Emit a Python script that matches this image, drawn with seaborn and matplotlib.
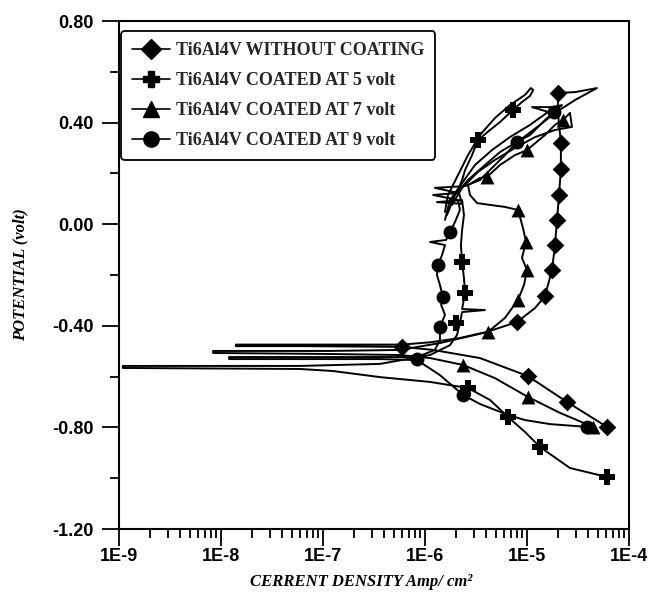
import numpy as np
import pandas as pd
import matplotlib
matplotlib.use("Agg")
import matplotlib.pyplot as plt
import matplotlib.ticker as mticker
from matplotlib.lines import Line2D
import seaborn as sns

# ---------------- data (current density A/cm2, potential V) ----------------
labels = ["Ti6Al4V WITHOUT COATING", "Ti6Al4V COATED AT 5 volt",
          "Ti6Al4V COATED AT 7 volt", "Ti6Al4V COATED AT 9 volt"]
markers = ["D", "P", "^", "o"]

# uncoated (diamonds)
uc_i = [6.08e-5, 2.47e-5, 1.02e-5, 3.46e-6, 1.20e-6, 5.96e-7, 5.96e-8, 1.40e-8,
        1.40e-8, 5.96e-8, 5.96e-7, 1.12e-6, 2.20e-6, 4.06e-6, 7.98e-6, 1.20e-5,
        1.50e-5, 1.76e-5, 1.88e-5, 1.97e-5, 2.06e-5, 2.15e-5, 2.15e-5, 2.01e-5,
        2.01e-5, 2.96e-5, 4.85e-5,
        2.96e-5, 1.88e-5, 1.34e-5, 8.53e-6, 5.43e-6, 3.87e-6, 2.64e-6, 1.97e-6, 1.64e-6]
uc_e = [-0.798, -0.700, -0.598, -0.527, -0.495, -0.483, -0.480, -0.480,
        -0.474, -0.474, -0.474, -0.465, -0.448, -0.424, -0.385, -0.330,
        -0.283, -0.180, -0.082, 0.017, 0.115, 0.217, 0.320, 0.438,
        0.517, 0.520, 0.536,
        0.489, 0.438, 0.391, 0.331, 0.284, 0.233, 0.174, 0.115, 0.036]
uc_mi = [5.96e-7, 1.02e-5, 2.47e-5, 6.08e-5, 7.98e-6, 1.50e-5, 1.76e-5, 1.88e-5,
         1.97e-5, 2.06e-5, 2.15e-5, 2.15e-5, 2.01e-5]
uc_me = [-0.483, -0.598, -0.700, -0.798, -0.385, -0.283, -0.180, -0.082,
         0.017, 0.115, 0.217, 0.320, 0.517]

# coated at 5 volt (plus)
c5_i = [6.08e-5, 2.64e-5, 1.34e-5, 9.55e-6, 6.52e-6, 4.34e-6, 2.64e-6, 1.12e-6,
        3.62e-7, 1.25e-7, 5.96e-8, 1.09e-9,
        1.09e-9, 5.96e-8, 3.62e-7, 1.12e-6, 1.76e-6, 2.06e-6, 2.20e-6, 2.31e-6,
        3.87e-6, 2.31e-6, 2.47e-6, 2.41e-6, 2.31e-6, 2.25e-6, 2.31e-6, 2.41e-6,
        2.31e-6, 1.31e-6, 2.31e-6, 2.11e-6, 2.31e-6, 2.47e-6, 2.89e-6, 3.31e-6,
        4.34e-6, 5.43e-6, 7.29e-6, 8.93e-6, 1.07e-5, 1.15e-5, 1.09e-5,
        9.55e-6, 6.81e-6, 4.85e-6, 3.46e-6, 2.64e-6, 2.11e-6, 1.68e-6, 1.57e-6]
c5_e = [-0.995, -0.960, -0.877, -0.818, -0.759, -0.692, -0.645, -0.621,
        -0.602, -0.578, -0.570, -0.566,
        -0.558, -0.558, -0.550, -0.515, -0.476, -0.436, -0.389, -0.346,
        -0.338, -0.334, -0.271, -0.212, -0.149, -0.082, -0.023, 0.036,
        0.095, 0.087, 0.080, 0.135, 0.174, 0.213, 0.272, 0.331,
        0.371, 0.402, 0.450, 0.481, 0.505, 0.528, 0.536,
        0.509, 0.469, 0.418, 0.351, 0.272, 0.194, 0.115, 0.048]
c5_mi = [6.08e-5, 1.34e-5, 6.52e-6, 2.64e-6, 2.00e-6, 2.47e-6, 2.31e-6, 3.31e-6, 7.29e-6]
c5_me = [-0.995, -0.877, -0.759, -0.645, -0.389, -0.271, -0.149, 0.331, 0.450]

# coated at 7 volt (triangles)
c7_i = [4.44e-5, 2.11e-5, 1.02e-5, 4.85e-6, 2.36e-6, 1.12e-6, 5.69e-7, 1.17e-7, 8.36e-9,
        8.36e-9, 1.17e-7, 5.69e-7, 1.40e-6, 4.15e-6, 6.08e-6, 8.17e-6, 9.35e-6,
        1.00e-5, 8.93e-6, 9.77e-6, 9.14e-6, 8.17e-6, 6.08e-6, 4.34e-6, 3.24e-6,
        2.76e-6, 2.64e-6, 3.46e-6, 4.06e-6, 5.43e-6, 7.62e-6, 1.00e-5, 1.50e-5,
        1.88e-5, 2.25e-5, 2.64e-5,
        2.76e-5, 1.88e-5, 1.20e-5, 7.62e-6, 4.85e-6, 3.31e-6, 2.31e-6, 1.84e-6]
c7_e = [-0.798, -0.743, -0.680, -0.606, -0.554, -0.527, -0.515, -0.511, -0.507,
        -0.499, -0.499, -0.495, -0.468, -0.424, -0.369, -0.298, -0.239,
        -0.180, -0.133, -0.070, -0.015, 0.056, 0.068, 0.076, 0.083,
        0.115, 0.154, 0.182, 0.186, 0.233, 0.272, 0.292, 0.351,
        0.391, 0.410, 0.438,
        0.383, 0.371, 0.343, 0.300, 0.253, 0.206, 0.143, 0.076]
c7_mi = [4.44e-5, 1.02e-5, 2.36e-6, 4.15e-6, 8.17e-6, 1.00e-5, 9.77e-6, 8.17e-6,
         4.06e-6, 1.00e-5, 2.25e-5]
c7_me = [-0.798, -0.680, -0.554, -0.424, -0.298, -0.180, -0.070, 0.056,
         0.186, 0.292, 0.410]

# coated at 9 volt (circles)
c9_i = [3.87e-5, 1.68e-5, 9.55e-6, 6.52e-6, 3.46e-6, 2.36e-6, 1.40e-6, 8.36e-7,
        3.62e-7, 1.20e-8,
        1.20e-8, 3.62e-7, 8.36e-7, 1.25e-6, 1.40e-6, 1.40e-6, 1.57e-6, 1.44e-6,
        1.50e-6, 1.40e-6, 1.31e-6, 1.34e-6, 1.47e-6, 1.57e-6, 1.12e-6, 1.61e-6,
        1.76e-6, 1.97e-6, 2.20e-6, 2.11e-6, 1.20e-6, 2.11e-6, 1.25e-6, 2.47e-6,
        3.46e-6, 4.85e-6, 6.08e-6, 7.98e-6, 1.07e-5, 1.50e-5, 1.84e-5, 2.20e-5,
        1.80e-5, 1.12e-5, 1.61e-5, 1.07e-5, 6.81e-6, 4.54e-6, 3.09e-6, 2.31e-6,
        1.76e-6, 1.57e-6]
c9_e = [-0.798, -0.787, -0.771, -0.751, -0.708, -0.672, -0.594, -0.535,
        -0.531, -0.531,
        -0.523, -0.523, -0.523, -0.495, -0.456, -0.405, -0.357, -0.318,
        -0.287, -0.239, -0.200, -0.161, -0.121, -0.082, -0.070, -0.062,
        -0.031, 0.009, 0.056, 0.095, 0.115, 0.123, 0.143, 0.150,
        0.174, 0.233, 0.272, 0.324, 0.351, 0.410, 0.442, 0.469,
        0.461, 0.461, 0.442, 0.391, 0.343, 0.292, 0.233, 0.162,
        0.095, 0.017]
c9_mi = [3.87e-5, 2.36e-6, 8.36e-7, 1.40e-6, 1.50e-6, 1.34e-6, 1.76e-6, 7.98e-6, 1.84e-5]
c9_me = [-0.798, -0.672, -0.531, -0.405, -0.287, -0.161, -0.031, 0.324, 0.442]

lines_i = [uc_i, c5_i, c7_i, c9_i]
lines_e = [uc_e, c5_e, c7_e, c9_e]
marks_i = [uc_mi, c5_mi, c7_mi, c9_mi]
marks_e = [uc_me, c5_me, c7_me, c9_me]

xtick_vals = [1e-9, 1e-8, 1e-7, 1e-6, 1e-5, 1e-4]
xtick_labels = ["1E-9", "1E-8", "1E-7", "1E-6", "1E-5", "1E-4"]
ytick_vals = [-1.2, -0.8, -0.4, 0.0, 0.4, 0.8]
ytick_labels = ["-1.20", "-0.80", "-0.40", "0.00", "0.40", "0.80"]

# ---------------- plot ----------------
sns.set_theme(style="white")
plt.rcParams['font.family'] = ['Liberation Sans', 'DejaVu Sans']

fig = plt.figure(figsize=(6.49, 5.93), dpi=100)
ax = fig.add_axes([119/649, 1 - 529/593, 510/649, 508/593])
ax.set_xscale('log')

msizes = {"D": 9.0, "P": 11.0, "^": 10.0, "o": 10.0}
for li, le, mi, me, mk in zip(lines_i, lines_e, marks_i, marks_e, markers):
    sns.lineplot(x=li, y=le, sort=False, estimator=None, color='black',
                 linewidth=1.4, ax=ax, legend=False)
    sns.scatterplot(x=mi, y=me, marker=mk, s=msizes[mk] ** 2, color='black',
                    linewidth=0, ax=ax, legend=False, zorder=3)

ax.set_xlim(1e-9, 1e-4)
ax.set_ylim(-1.2, 0.8)
ax.set_xticks(xtick_vals)
ax.set_xticklabels(xtick_labels)
ax.xaxis.set_minor_locator(mticker.LogLocator(base=10, subs=np.arange(2, 10)))
ax.xaxis.set_minor_formatter(mticker.NullFormatter())
ax.set_yticks(ytick_vals)
ax.set_yticklabels(ytick_labels)
ax.yaxis.set_minor_locator(mticker.MultipleLocator(0.2))

for sp in ax.spines.values():
    sp.set_color('black')
    sp.set_linewidth(1.5)

ax.tick_params(axis='both', which='major', direction='out', length=12, width=1.3,
               color='black', labelsize=13, bottom=True, left=True)
ax.tick_params(axis='x', which='major', pad=2)
ax.tick_params(axis='y', which='major', pad=6)
ax.tick_params(axis='both', which='minor', direction='out', length=6.5, width=1.3,
               color='black', bottom=True, left=True)
for t in ax.get_xticklabels() + ax.get_yticklabels():
    t.set_fontweight('bold')
    t.set_color('black')

ax.set_xlabel("CERRENT DENSITY Amp/ cm²", family=['Liberation Serif'],
              style='italic', weight='bold', fontsize=12, color='black', labelpad=2)
ax.xaxis.set_label_coords(0.475, -0.088)
ax.set_ylabel("POTENTIAL (volt)", family=['Liberation Serif'], style='italic',
              weight='bold', fontsize=12, color='black', labelpad=17)

handles = [Line2D([], [], color='black', lw=1.2, marker=mk,
                  markersize=msizes[mk] + 1) for mk in markers]
leg = ax.legend(handles, labels, loc='upper left', bbox_to_anchor=(0.004, 0.98),
                borderaxespad=0, frameon=True, fancybox=True, handlelength=2.1,
                handletextpad=0.35, labelspacing=0.72, borderpad=0.6,
                prop={'family': 'Liberation Serif', 'weight': 'bold', 'size': 13})
leg.get_frame().set_edgecolor('black')
leg.get_frame().set_linewidth(1.3)
leg.get_frame().set_alpha(1)

fig.savefig("out.png", dpi=100)
